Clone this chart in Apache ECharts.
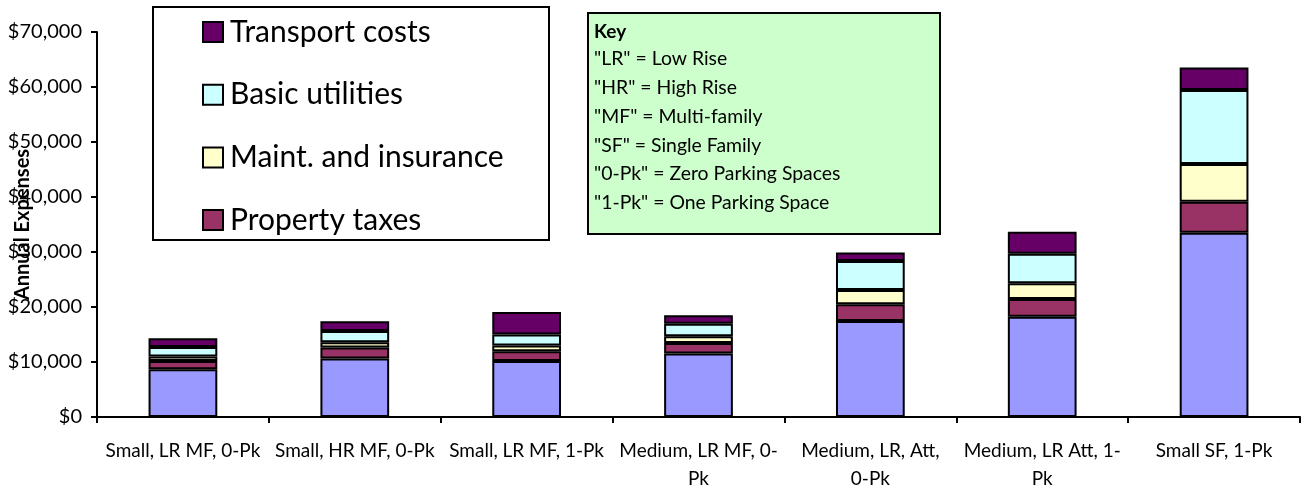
<!DOCTYPE html>
<html>
<head>
<meta charset="utf-8">
<script src="https://cdn.jsdelivr.net/npm/echarts@6/dist/echarts.min.js"></script>
<style>
  html, body { margin: 0; padding: 0; background: #fff; }
  #chart { width: 1306px; height: 489px; }
</style>
</head>
<body>
<div id="chart"></div>
<script>
// Housing types on the x axis (line breaks where the labels wrap)
const categories = [
  'Small, LR MF, 0-Pk',
  'Small, HR MF, 0-Pk',
  'Small, LR MF, 1-Pk',
  'Medium, LR MF, 0-\nPk',
  'Medium, LR, Att,\n0-Pk',
  'Medium, LR Att, 1-\nPk',
  'Small SF, 1-Pk'
];

// Annual expense components in dollars, stacked bottom to top
const baseCost       = [8700, 10650, 10200, 11550, 17450, 18250, 33500];
const propertyTaxes  = [1500, 2000, 1750, 1900, 3050, 3200, 5650];
const maintInsurance = [800, 950, 1050, 1250, 2600, 2850, 6850];
const basicUtilities = [1750, 2050, 2000, 2250, 5250, 5400, 13450];
const transportCosts = [1550, 1750, 4100, 1550, 1550, 4000, 4100];

// Value axis ticks
const yMin = 0;
const yMax = 70000;
const yStep = 10000;

// Abbreviation key
const keyTitle = 'Key';
const keyLines = [
  '"LR" = Low Rise',
  '"HR" = High Rise',
  '"MF" = Multi-family',
  '"SF" = Single Family',
  '"0-Pk" = Zero Parking Spaces',
  '"1-Pk" = One Parking Space'
];

const FONT = 'Lato, "Open Sans", sans-serif';

function bar(name, data, color) {
  return {
    name: name,
    type: 'bar',
    stack: 'total',
    barWidth: '40%',
    data: data,
    itemStyle: { color: color, borderColor: '#000', borderWidth: 2 },
    emphasis: { disabled: true }
  };
}

const chart = echarts.init(document.getElementById('chart'), null, { renderer: 'canvas' });

const keyElements = [
  {
    type: 'rect',
    shape: { x: 588, y: 13, width: 352, height: 221 },
    style: { fill: '#CCFFCC', stroke: '#000', lineWidth: 2 },
    z: 10
  },
  {
    type: 'text',
    x: 594, y: 32,
    style: { text: keyTitle, font: 'bold 19px ' + FONT, fill: '#000', verticalAlign: 'middle' },
    z: 11
  }
].concat(keyLines.map((t, i) => ({
  type: 'text',
  x: 594, y: 59 + i * 28.8,
  style: { text: t, font: '19.4px ' + FONT, fill: '#000', verticalAlign: 'middle' },
  z: 11
})));

chart.setOption({
  animation: false,
  textStyle: { fontFamily: FONT },
  grid: {
    left: 97, right: 6, top: 32, bottom: 72,
    containLabel: false,
    outerBoundsMode: 'none'
  },
  legend: {
    data: ['Transport costs', 'Basic utilities', 'Maint. and insurance', 'Property taxes'],
    orient: 'vertical',
    left: 202,
    top: 14,
    padding: 0,
    itemGap: 26.7,
    itemWidth: 20,
    itemHeight: 20,
    icon: 'rect',
    selectedMode: false,
    itemStyle: { borderColor: '#000', borderWidth: 2 },
    textStyle: { fontSize: 30, lineHeight: 36, color: '#000', fontFamily: FONT, padding: [0, 0, 0, 2] }
  },
  graphic: [
    {
      type: 'rect',
      shape: { x: 153, y: 7, width: 396, height: 233 },
      style: { fill: '#fff', stroke: '#000', lineWidth: 2 },
      z: -1
    }
  ].concat(keyElements),
  xAxis: {
    type: 'category',
    data: categories,
    axisLine: { lineStyle: { color: '#000', width: 2 } },
    axisTick: { show: true, length: 6, lineStyle: { color: '#000', width: 2 } },
    axisLabel: { color: '#000', fontSize: 19, lineHeight: 28, margin: 20, interval: 0, fontFamily: FONT }
  },
  yAxis: {
    type: 'value',
    min: yMin,
    max: yMax,
    interval: yStep,
    name: 'Annual Expenses',
    nameLocation: 'middle',
    nameGap: 64,
    nameMoveOverlap: false,
    nameTextStyle: { color: '#000', fontSize: 20, fontWeight: 'bold', fontFamily: FONT },
    axisLine: { show: true, lineStyle: { color: '#000', width: 2 } },
    axisTick: { show: true, length: 6, lineStyle: { color: '#000', width: 2 } },
    splitLine: { show: false },
    axisLabel: {
      color: '#000', fontSize: 20, margin: 15, fontFamily: FONT,
      formatter: v => '$' + v.toLocaleString('en-US')
    }
  },
  series: [
    bar('Base cost', baseCost, '#9999FF'),
    bar('Property taxes', propertyTaxes, '#993366'),
    bar('Maint. and insurance', maintInsurance, '#FFFFCC'),
    bar('Basic utilities', basicUtilities, '#CCFFFF'),
    bar('Transport costs', transportCosts, '#660066')
  ]
});
</script>
</body>
</html>
